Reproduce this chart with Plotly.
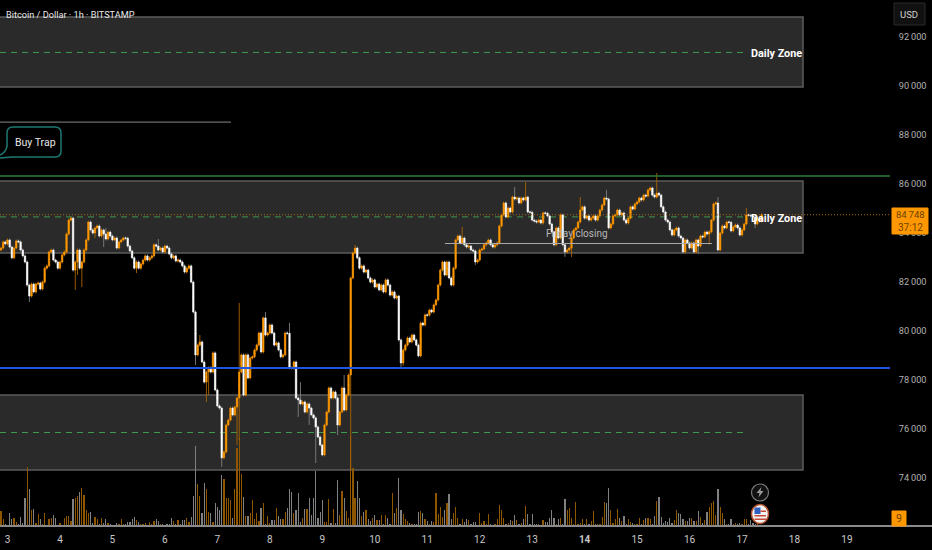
import pandas as pd
import plotly.graph_objects as go

first_candle = "2025-04-02 21:00"
first_open = 83310
closes = [83390,83640,83560,83720,83430,82990,83390,83680,83640,83310,83070,82820,81880,81430,81920,81600,81920,81960,81720,82000,
82570,82660,83230,83310,82900,82820,82570,82820,83110,83230,83960,84530,84610,82490,82820,83310,82570,82820,83310,83720,
84450,84130,84000,84210,84290,83880,84130,83960,83760,84040,83880,83720,83800,83390,83640,83720,83800,83790,83470,83270,
82990,82570,82820,82570,82740,82900,83070,82900,82990,83070,83520,83470,83310,83390,83230,83470,83390,83150,82990,83070,
82860,82900,82820,82660,82410,82570,82660,82000,80780,79030,79430,79560,78740,77920,78330,78500,78330,79110,77600,76950,
76860,74830,75070,76170,76370,76860,76580,76900,77270,78330,79030,77390,79030,78090,78900,78950,79230,79430,79920,79150,
80540,79840,79920,80250,79920,79430,79520,79230,78950,79030,79920,79910,78500,78490,78740,77270,77190,77030,77110,76700,
77030,76860,76580,76460,76090,75680,75350,74950,76170,76700,77680,77270,77520,77270,76170,76700,77680,76780,77390,78210,
82170,83190,83390,82990,82570,82660,82410,82490,82170,82000,82090,81800,81920,81680,81880,81600,82090,81880,81470,81600,
81350,81430,79640,78700,79230,79430,79720,79560,79840,79640,79430,78990,80330,80250,80660,80650,80860,80780,81070,81270,
81880,82490,82820,82290,82820,82170,81880,82570,83720,83880,83600,83800,83520,83430,83470,83310,83270,82820,82900,83310,
83350,83520,83600,83720,83520,83430,83520,83600,84290,84740,85230,84660,85020,84860,85470,85390,85430,85230,85430,85350,
85470,84860,84850,84530,84490,84450,84530,84410,84820,84810,84700,84370,84040,83520,84210,83800,84740,83520,83230,83310,
83390,83800,84130,84210,84450,84940,85070,84610,84700,84530,84610,84700,84530,84700,84940,85150,85430,85390,84210,84370,
84700,84740,84940,84740,84820,84530,84410,84610,85070,84980,85190,85270,85430,85350,85550,85510,85760,85840,85550,85470,
85630,85550,85070,84860,84530,84450,84130,83920,84130,84210,83880,83800,83230,83720,83600,83390,83600,83230,83720,83470,
83880,83840,84040,83960,84050,84530,85190,85230,83310,84000,84290,84210,84450,84440,84090,84250,84330,84210,83920,84130,
84370,84740,84730,84700,84660,84370,84610,84490,84748]

# notable wick extremes: candle number -> price
spike_highs = {48:84210,72:83760,91:79840,109:81150,121:80780,132:80330,137:77920,157:78210,162:83520,211:84250,
               235:85880,240:86080,265:85470,277:85760,300:86450,328:85470,341:85020}
spike_lows = {13:81190,34:81680,35:82290,37:81800,43:83800,47:83430,62:82370,89:78620,94:77110,95:77390,101:74460,
              108:75350,109:75560,136:76500,141:76170,144:74620,154:75760,160:74330,183:78460,184:78580,217:82700,
              258:83030,261:83030,319:83150,324:83520,345:84210}
usual_wick = 60

volumes = [15,7,2,1,13,7,8,4,2,9,3,28,59,37,16,17,3,12,7,2,13,1,7,8,11,8,1,3,1,8,10,10,5,27,28,30,34,38,31,16,13,14,3,9,7,2,8,3,7,3,2,
1,1,3,2,7,2,2,4,4,7,9,6,4,2,2,3,1,4,2,5,7,5,2,2,1,2,2,8,5,2,6,2,6,6,8,4,9,30,80,42,30,13,43,37,14,13,4,23,19,16,
51,47,28,28,26,8,37,78,88,52,29,10,10,13,26,7,13,5,18,23,2,10,3,6,6,18,10,7,7,14,18,37,34,13,16,33,4,8,17,17,28,11,28,55,8,14,26,4,4,27,
3,17,3,46,11,35,28,15,8,90,58,28,45,28,10,14,16,7,5,8,11,6,6,11,2,11,8,2,33,13,18,48,16,12,7,5,3,2,2,2,14,15,13,7,5,2,5,4,33,12,
19,9,16,23,32,7,13,19,8,2,7,4,7,6,2,4,4,1,13,3,5,2,12,2,1,2,7,21,16,8,2,3,6,5,11,6,2,3,7,20,12,2,12,2,2,2,1,6,4,4,8,16,8,2,
7,8,2,27,16,18,8,2,24,2,3,7,2,7,2,5,15,2,2,2,9,24,23,38,16,3,7,17,8,5,10,2,7,4,3,2,2,8,2,6,8,8,7,2,10,25,29,9,3,5,4,8,3,6,
16,13,12,7,5,5,8,8,5,5,15,9,3,6,14,19,23,25,11,37,19,13,7,2,2,7,2,3,2,3,2,7,7,2,6,3,2,2,1,1]
orange_volume_exceptions = [12]

price_ticks = [74000,76000,78000,80000,82000,84000,86000,88000,90000,92000]
day_ticks = list(range(3, 20))

zones = [(92816, 89960, 91370), (86125, 83190, 84660), (77390, 74330, 75864)]
green_level = 86330
blue_level = 78500
last_price = 84748
friday_close = 83575
trap_level = 88530

# ---------- derived
n = len(closes)
times = pd.date_range(first_candle, periods=n, freq="h")
opens = [first_open] + closes[:-1]
body_hi = [max(a, b) for a, b in zip(opens, closes)]
body_lo = [min(a, b) for a, b in zip(opens, closes)]
highs = [spike_highs.get(i, body_hi[i] + usual_wick) for i in range(n)]
lows = [spike_lows.get(i, body_lo[i] - usual_wick) for i in range(n)]
mids = [(a + b) / 2 for a, b in zip(opens, closes)]
wick_open = [m - 1 if c >= o else m + 1 for m, o, c in zip(mids, opens, closes)]
wick_close = [m + 1 if c >= o else m - 1 for m, o, c in zip(mids, opens, closes)]

W_PLOT, H_PLOT = 890, 526
def X(p): return p / W_PLOT
def Y(p): return 1 - p / H_PLOT

ORANGE = "#ff9800"
FONT = "Roboto"
fig = go.Figure()

vc = min(len(volumes), n)
fig.add_trace(go.Bar(
    x=times[:vc], y=volumes[:vc], width=3600000 * 0.55, yaxis="y",
    marker=dict(color=["#8f5600" if (closes[i] >= opens[i] or i in orange_volume_exceptions) else "#808080"
                       for i in range(vc)], line_width=0),
    hoverinfo="skip", showlegend=False))

fig.add_trace(go.Candlestick(
    x=times, open=wick_open, high=highs, low=lows, close=wick_close, yaxis="y2", whiskerwidth=0,
    increasing=dict(line=dict(color="#a86400", width=0.9), fillcolor="#a86400"),
    decreasing=dict(line=dict(color="#808080", width=0.9), fillcolor="#808080"),
    hoverinfo="skip", showlegend=False))

fig.add_trace(go.Candlestick(
    x=times, open=opens, high=body_hi, low=body_lo, close=closes, yaxis="y2", whiskerwidth=0,
    increasing=dict(line=dict(color=ORANGE, width=0.6), fillcolor=ORANGE),
    decreasing=dict(line=dict(color="#ffffff", width=0.6), fillcolor="#ffffff"),
    hoverinfo="skip", showlegend=False))

shapes = []
for top, bot, mid in zones:
    shapes.append(dict(type="rect", xref="paper", yref="y2", x0=X(-5), x1=X(803), y0=bot, y1=top,
                       fillcolor="#2a2a2a", line=dict(color="#5c5c5c", width=1.5), layer="below"))
    shapes.append(dict(type="line", xref="paper", yref="y2", x0=0, x1=X(745), y0=mid, y1=mid,
                       line=dict(color="#3f9a4f", width=1, dash="6px,5px"), layer="below"))

shapes += [
    dict(type="line", xref="paper", yref="y2", x0=0, x1=1, y0=green_level, y1=green_level,
         line=dict(color="#2f7d3a", width=1.5)),
    dict(type="line", xref="paper", yref="y2", x0=0, x1=1, y0=blue_level, y1=blue_level,
         line=dict(color="#1f55e0", width=2)),
    dict(type="line", xref="paper", yref="y2", x0=0, x1=X(231), y0=trap_level, y1=trap_level,
         line=dict(color="#6e6e6e", width=1.2)),
    dict(type="line", xref="paper", yref="y2", x0=X(445), x1=X(712), y0=friday_close, y1=friday_close,
         line=dict(color="#a8a8a8", width=1.2)),
    dict(type="line", xref="paper", yref="y2", x0=0, x1=1, y0=last_price, y1=last_price,
         line=dict(color="#a86a10", width=1, dash="1px,2px")),
    dict(type="line", xref="paper", yref="paper", x0=0, x1=X(932), y0=Y(526), y1=Y(526),
         line=dict(color="#8a8a8a", width=2)),
    dict(type="rect", xref="paper", yref="paper", x0=X(892), x1=X(928), y0=Y(208), y1=Y(234),
         fillcolor=ORANGE, line=dict(color=ORANGE, width=1)),
    dict(type="rect", xref="paper", yref="paper", x0=X(892), x1=X(906), y0=Y(511), y1=Y(526),
         fillcolor=ORANGE, line=dict(color=ORANGE, width=1)),
    dict(type="rect", xref="paper", yref="paper", x0=X(894), x1=X(925), y0=Y(3), y1=Y(25),
         fillcolor="#111111", line=dict(color="#2a2a2a", width=1)),
]

# callout
def P(x, y): return f"{X(x):.5f},{Y(y):.5f}"
callout = (f"M {P(0,155)} Q {P(6,152)} {P(7,146)} L {P(7,133)} Q {P(7,127)} {P(13,127)} L {P(55,127)} "
           f"Q {P(61,127)} {P(61,133)} L {P(61,151)} Q {P(61,157)} {P(55,157)} L {P(12,157)} L {P(0,158)}")
shapes.append(dict(type="path", xref="paper", yref="paper", path=callout, line=dict(color="#1f7a74", width=1.5)))

# lightning badge
shapes.append(dict(type="circle", xref="paper", yref="paper", x0=X(751.5), x1=X(768.5), y0=Y(484), y1=Y(501),
                   line=dict(color="#7a7a7a", width=1.2), fillcolor="#111111"))
bolt = f"M {P(761.5,487)} L {P(756.5,493)} L {P(759.5,493)} L {P(758.5,497.5)} L {P(763.5,491)} L {P(760.5,491)} Z"
shapes.append(dict(type="path", xref="paper", yref="paper", path=bolt, fillcolor="#9a9a9a", line_width=0))

# US flag badge
shapes.append(dict(type="circle", xref="paper", yref="paper", x0=X(751.5), x1=X(768.5), y0=Y(504.5), y1=Y(523.5),
                   line=dict(color="#b5512a", width=1.5), fillcolor="#f4f4f4"))
shapes.append(dict(type="rect", xref="paper", yref="paper", x0=X(754.5), x1=X(760.5), y0=Y(507.5), y1=Y(514),
                   fillcolor="#2f5fc0", line_width=0))
for a, b in [(510.5, 512), (515, 516.5), (518.5, 520)]:
    shapes.append(dict(type="rect", xref="paper", yref="paper", x0=X(760.5 if a < 514 else 754.5), x1=X(766), y0=Y(a), y1=Y(b),
                       fillcolor="#c84a3a", line_width=0))

def note(text, x, y, color="#ffffff", size=11, anchor="left", weight=None, family=FONT):
    return dict(text=text, xref="paper", yref="paper", x=X(x), y=Y(y), xanchor=anchor, yanchor="middle",
                showarrow=False, font=dict(color=color, size=size, family=family, weight=weight))

annotations = [
    note("Bitcoin / Dollar · 1h · BITSTAMP", 4, 14, "#e8e8e8", 9.2),
    note("Daily Zone", 748.5, 53, size=10.8, weight=700),
    note("Daily Zone", 748.5, 218, size=10.8, weight=700),
    note("Buy Trap", 12.5, 142, "#e6e6e6", 10.5),
    note("Friday closing", 544, 234, "#b8b8b8", 10),
    note("84\u2009748", 910, 214.5, "#6e4300", 9.5, "center"),
    note("37:12", 910, 227.5, "#6e4300", 10, "center"),
    note("9", 899, 518.5, "#6e4300", 10.5, "center"),
    note("USD", 909, 14.5, "#d0d0d0", 9.5, "center"),
]

fig.update_layout(
    width=932, height=550, autosize=False,
    margin=dict(l=0, r=42, t=0, b=24),
    paper_bgcolor="#000000", plot_bgcolor="#000000",
    showlegend=False, bargap=0, boxgap=0.05, hovermode=False,
    shapes=shapes, annotations=annotations,
    font=dict(family=FONT, color="#c4c4c4", size=10),
    xaxis=dict(
        type="date", range=["2025-04-02 20:34", "2025-04-19 19:42"],
        rangeslider=dict(visible=False), showgrid=False, zeroline=False, showline=False,
        tickvals=[f"2025-04-{d:02d}" for d in day_ticks],
        ticktext=[f"<b>{d}</b>" if d == 14 else str(d) for d in day_ticks],
        ticks="outside", ticklen=4, tickcolor="rgba(0,0,0,0)",
        tickfont=dict(color="#c8c8c8", size=10, family=FONT),
    ),
    yaxis=dict(range=[0, 526], visible=False, fixedrange=True),
    yaxis2=dict(
        range=[72049, 93510], overlaying="y", side="right", anchor="x",
        showgrid=False, zeroline=False, showline=False,
        tickvals=price_ticks, ticktext=[f"{v//1000}\u2009{v%1000:03d}" for v in price_ticks],
        ticks="outside", ticklen=6, tickcolor="rgba(0,0,0,0)",
        tickfont=dict(color="#b0b0b0", size=9.2, family=FONT),
    ),
)

fig.write_html("out.html", config=dict(displayModeBar=False, staticPlot=True),
               post_script="document.body.style.margin='0';document.body.style.background='#000';document.body.style.overflow='hidden';")
